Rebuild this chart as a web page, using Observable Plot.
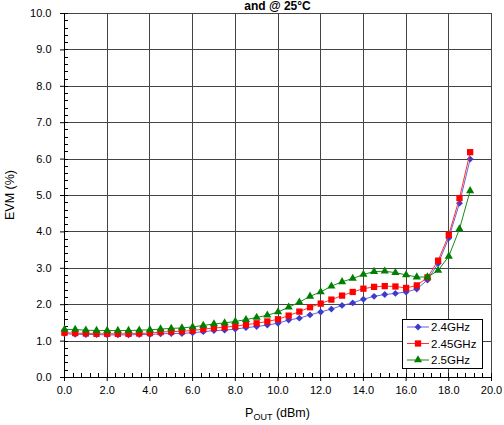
<!DOCTYPE html>
<html><head><meta charset="utf-8">
<script src="https://cdn.jsdelivr.net/npm/d3@7"></script>
<script src="https://cdn.jsdelivr.net/npm/@observablehq/plot@0.6"></script>
<style>
body{margin:0;background:#fff;}
svg{font-family:"Liberation Sans",Arial,sans-serif;}
</style>
</head><body><div id="chart"></div>
<script>
// P_OUT (dBm)
const pout = [0,0.5,1,1.5,2,2.5,3,3.5,4,4.5,5,5.5,6,6.5,7,7.5,8,8.5,9,9.5,10,10.5,11,11.5,12,12.5,13,13.5,14,14.5,15,15.5,16,16.5,17,17.5,18,18.5,19];
// EVM (%) per frequency
const evm24  = [1.20,1.19,1.18,1.18,1.17,1.17,1.17,1.18,1.18,1.20,1.21,1.21,1.23,1.26,1.29,1.30,1.33,1.37,1.40,1.44,1.49,1.58,1.63,1.72,1.80,1.88,1.98,2.05,2.15,2.23,2.28,2.31,2.35,2.43,2.68,3.13,3.83,4.79,6.00];
const evm245 = [1.23,1.22,1.21,1.20,1.20,1.20,1.20,1.21,1.22,1.25,1.26,1.27,1.29,1.33,1.36,1.38,1.41,1.45,1.49,1.54,1.60,1.70,1.81,1.93,2.03,2.14,2.25,2.35,2.44,2.49,2.51,2.50,2.46,2.53,2.75,3.21,3.92,4.93,6.19];
const evm25  = [1.32,1.32,1.30,1.29,1.29,1.29,1.29,1.30,1.31,1.33,1.35,1.36,1.39,1.43,1.47,1.50,1.54,1.59,1.65,1.71,1.80,1.93,2.07,2.23,2.35,2.51,2.63,2.72,2.83,2.91,2.92,2.88,2.82,2.76,2.76,2.94,3.33,4.08,5.13];
const seriesNames = ["2.4GHz","2.45GHz","2.5GHz"];
// axis ticks
const xTicks = [0,2,4,6,8,10,12,14,16,18,20];
const yTicks = [0,1,2,3,4,5,6,7,8,9,10];
const xMinor = [0,0.4,0.8,1.2,1.6,2,2.4,2.8,3.2,3.6,4,4.4,4.8,5.2,5.6,6,6.4,6.8,7.2,7.6,8,8.4,8.8,9.2,9.6,10,10.4,10.8,11.2,11.6,12,12.4,12.8,13.2,13.6,14,14.4,14.8,15.2,15.6,16,16.4,16.8,17.2,17.6,18,18.4,18.8,19.2,19.6,20];
const yMinor = [0,0.2,0.4,0.6,0.8,1,1.2,1.4,1.6,1.8,2,2.2,2.4,2.6,2.8,3,3.2,3.4,3.6,3.8,4,4.2,4.4,4.6,4.8,5,5.2,5.4,5.6,5.8,6,6.2,6.4,6.6,6.8,7,7.2,7.4,7.6,7.8,8,8.2,8.4,8.6,8.8,9,9.2,9.4,9.6,9.8,10];

const styles = [
  {values: evm24,  fill:"#3c3ccc", line:"#6464e6", symbol:"diamond2", r:3.1, d3sym: d3.symbolDiamond2},
  {values: evm245, fill:"#ff0000", line:"#ff3030", symbol:"square2",  r:4.0, d3sym: d3.symbolSquare2},
  {values: evm25,  fill:"#008000", line:"#1a8a1a", symbol:"triangle2",r:3.9, d3sym: d3.symbolTriangle2}
];

const marks = [
  Plot.ruleX(xTicks, {x: d => d, stroke:"#444", strokeWidth:1, shapeRendering:"crispEdges"}),
  Plot.ruleY(yTicks, {y: d => d, stroke:"#444", strokeWidth:1, shapeRendering:"crispEdges"}),
  Plot.ruleX(xMinor, {x: d => d, y1: 0, y2: 0.11, stroke:"#000", shapeRendering:"crispEdges"}),
  Plot.ruleY(yMinor, {y: d => d, x1: 0, x2: 0.19, stroke:"#000", shapeRendering:"crispEdges"}),
  Plot.ruleX([0], {x: d => d, stroke:"#000", shapeRendering:"crispEdges"}),
  Plot.ruleY([0], {y: d => d, stroke:"#000", shapeRendering:"crispEdges"}),
  Plot.axisX(xTicks, {tickSize:4, tickPadding:5, tickFormat: d => d.toFixed(1), label:null, fontSize:11}),
  Plot.axisY(yTicks, {tickSize:4, tickPadding:9, tickFormat: d => d.toFixed(1), label:null, fontSize:11})
];
styles.forEach((s, k) => {
  const rows = pout.map((x, i) => ({x, y: s.values[i], name: seriesNames[k]}));
  marks.push(Plot.line(rows, {x:"x", y:"y", stroke: s.line, strokeWidth:1}));
  marks.push(Plot.dot(rows, {x:"x", y:"y", symbol: s.symbol, r: s.r, fill: s.fill, stroke:"none"}));
});

const chart = Plot.plot({
  width:504, height:425,
  marginLeft:64, marginRight:13, marginTop:13, marginBottom:48,
  x:{domain:[0,20]}, y:{domain:[0,10]},
  style:{fontFamily:'"Liberation Sans",Arial,sans-serif', fontSize:"11px", color:"#000", background:"#fff"},
  marks
});
document.getElementById("chart").appendChild(chart);

const svg = d3.select(chart);
// title (second line of the original title)
svg.append("text").attr("x", 277.5).attr("y", 9.5).attr("text-anchor","middle")
  .attr("font-size", 12).attr("font-weight","bold").text("and @ 25°C");
// x label with subscript
const xl = svg.append("text").attr("x", 277.5).attr("y", 417).attr("text-anchor","middle").attr("font-size", 12.5);
xl.append("tspan").text("P");
xl.append("tspan").attr("font-size", 9).attr("dy", 3).text("OUT");
xl.append("tspan").attr("dy", -3).text(" (dBm)");
// y label
svg.append("text").attr("transform","translate(14,195) rotate(-90)").attr("text-anchor","middle")
  .attr("font-size", 12.5).text("EVM (%)");
// legend
const lg = svg.append("g");
lg.append("rect").attr("x", 402.5).attr("y", 319.5).attr("width", 80).attr("height", 49)
  .attr("fill","#fff").attr("stroke","#000");
styles.forEach((s, k) => {
  const y = 327 + k * 16.5;
  lg.append("line").attr("x1", 407).attr("x2", 429).attr("y1", y).attr("y2", y).attr("stroke", s.line);
  lg.append("path").attr("transform", `translate(418,${y})`)
    .attr("d", d3.symbol(s.d3sym, Math.PI * s.r * s.r)()).attr("fill", s.fill);
  lg.append("text").attr("x", 431).attr("y", y + 4).attr("text-anchor","start")
    .attr("font-size", 11.5).text(seriesNames[k]);
});
</script>
</body></html>
